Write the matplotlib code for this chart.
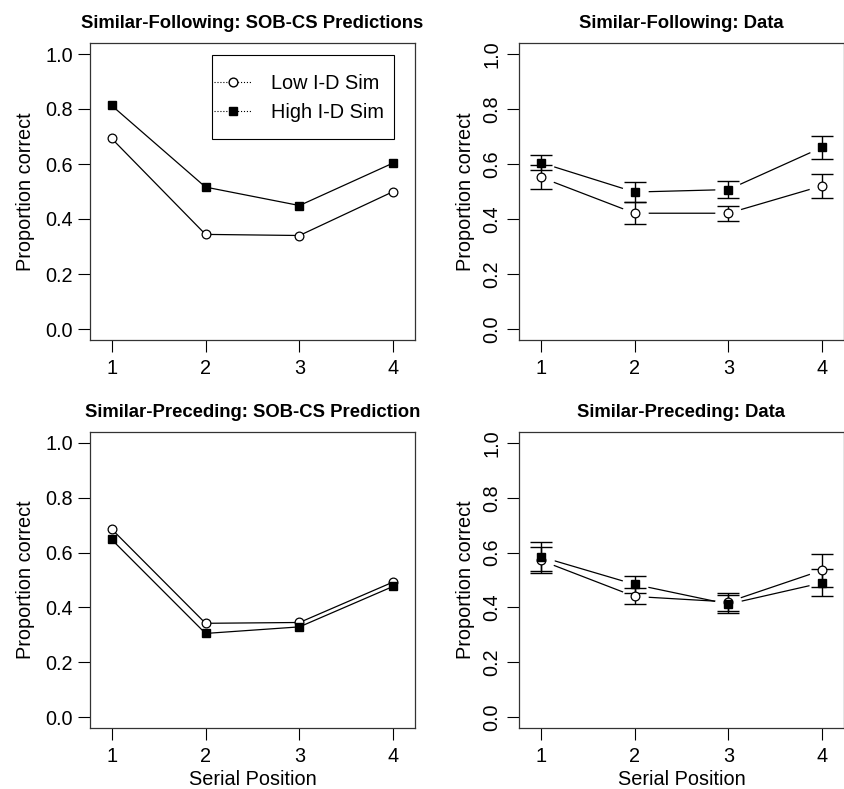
import matplotlib
matplotlib.use("Agg")
import matplotlib.pyplot as plt
from matplotlib.patches import Rectangle
import numpy as np

plt.rcParams['font.family'] = ['Liberation Sans', 'DejaVu Sans']

positions = [1, 2, 3, 4]
series_names = ["Low I-D Sim", "High I-D Sim"]

# Similar-Following: SOB-CS predictions
sf_pred_low = [0.693, 0.344, 0.340, 0.500]
sf_pred_high = [0.813, 0.516, 0.449, 0.604]

# Similar-Following: data
sf_data_low = [0.552, 0.421, 0.421, 0.521]
sf_data_low_err = [0.043, 0.040, 0.027, 0.043]
sf_data_high = [0.605, 0.498, 0.507, 0.661]
sf_data_high_err = [0.028, 0.036, 0.031, 0.042]

# Similar-Preceding: SOB-CS prediction
sp_pred_low = [0.686, 0.342, 0.345, 0.493]
sp_pred_high = [0.648, 0.305, 0.329, 0.477]

# Similar-Preceding: data
sp_data_low = [0.572, 0.440, 0.420, 0.536]
sp_data_low_err = [0.047, 0.029, 0.033, 0.060]
sp_data_high = [0.585, 0.484, 0.412, 0.490]
sp_data_high_err = [0.052, 0.032, 0.033, 0.049]

titles = ["Similar-Following: SOB-CS Predictions", "Similar-Following: Data",
          "Similar-Preceding: SOB-CS Prediction", "Similar-Preceding: Data"]
yticks = [0.0, 0.2, 0.4, 0.6, 0.8, 1.0]
ytick_labels = ["0.0", "0.2", "0.4", "0.6", "0.8", "1.0"]

W, H = 845, 789
fig = plt.figure(figsize=(W / 100, H / 100), dpi=100)

def rect(x0, y0, x1, y1):
    return [x0 / W, 1 - y1 / H, (x1 - x0) / W, (y1 - y0) / H]

axs = [fig.add_axes(rect(90, 43, 415, 340)),
       fig.add_axes(rect(519, 43, 844, 340)),
       fig.add_axes(rect(90, 432, 415, 728)),
       fig.add_axes(rect(519, 432, 844, 728))]

ms = 6.3
lw = 0.9
fs = 14.3

def style(ax, title, rotate, xlabel):
    ax.set_xlim(0.77, 4.23)
    ax.set_ylim(-0.04, 1.04)
    ax.set_xticks(positions)
    ax.set_xticklabels([str(p) for p in positions], fontsize=fs)
    ax.set_yticks(yticks)
    if rotate:
        ax.set_yticklabels(ytick_labels, fontsize=fs, rotation=90, va='center')
    else:
        ax.set_yticklabels(ytick_labels, fontsize=fs)
    ax.tick_params(direction='out', length=8.5, width=0.8)
    ax.tick_params(axis='x', pad=5)
    ax.tick_params(axis='y', pad=4)
    for s in ax.spines.values():
        s.set_linewidth(0.9)
        s.set_color('#333333')
    ax.set_title(title, fontsize=13.3, fontweight='bold', pad=11)
    ax.set_ylabel("Proportion correct", fontsize=fs)
    if rotate:
        ax.yaxis.set_label_coords(-0.136, 0.5)
    else:
        ax.yaxis.set_label_coords(-0.168, 0.5)
    if xlabel:
        ax.set_xlabel("Serial Position", fontsize=fs)
        ax.xaxis.set_label_coords(0.5, -0.143)

def pred(ax, low, high, legend=False):
    ax.plot(positions, low, '-', color='black', lw=lw, marker='o', ms=ms,
            mfc='white', mec='black', mew=0.9, zorder=3)
    ax.plot(positions, high, '-', color='black', lw=lw, marker='s', ms=ms,
            mfc='black', mec='black', zorder=4)
    if legend:
        h1, = ax.plot([], [], ':', color='black', lw=0.8, marker='o', ms=ms,
                      mfc='white', mec='black')
        h2, = ax.plot([], [], ':', color='black', lw=0.8, marker='s', ms=ms,
                      mfc='black', mec='black')
        ax.legend([h1, h2], series_names, loc='center',
                  bbox_to_anchor=(0.643, 0.815), fontsize=fs, frameon=False,
                  handlelength=1.9, handletextpad=0.95, borderpad=0.0,
                  labelspacing=0.5, borderaxespad=0)
        ax.add_patch(Rectangle((0.375, 0.677), 0.56, 0.283, transform=ax.transAxes,
                               fill=False, edgecolor='black', lw=0.8, zorder=5))

def data(ax, low, low_err, high, high_err):
    ax.plot(positions, low, '-', color='black', lw=lw, zorder=1)
    ax.plot(positions, high, '-', color='black', lw=lw, zorder=1)
    # white gap around points (R type="b")
    ax.plot(positions, low, 'o', ms=19, mfc='white', mec='none', ls='none', zorder=2)
    ax.plot(positions, high, 'o', ms=19, mfc='white', mec='none', ls='none', zorder=2)
    ax.errorbar(positions, low, yerr=low_err, fmt='none', ecolor='black',
                elinewidth=1.0, capsize=8, capthick=1.0, zorder=3)
    ax.errorbar(positions, high, yerr=high_err, fmt='none', ecolor='black',
                elinewidth=1.0, capsize=8, capthick=1.0, zorder=3)
    ax.plot(positions, low, 'o', ms=ms, mfc='white', mec='black', mew=0.9,
            ls='none', zorder=4)
    ax.plot(positions, high, 's', ms=ms, mfc='black', mec='black',
            ls='none', zorder=5)

pred(axs[0], sf_pred_low, sf_pred_high, legend=True)
data(axs[1], sf_data_low, sf_data_low_err, sf_data_high, sf_data_high_err)
pred(axs[2], sp_pred_low, sp_pred_high)
data(axs[3], sp_data_low, sp_data_low_err, sp_data_high, sp_data_high_err)

style(axs[0], titles[0], False, False)
style(axs[1], titles[1], True, False)
style(axs[2], titles[2], False, True)
style(axs[3], titles[3], True, True)

fig.savefig("out.png", dpi=100)
